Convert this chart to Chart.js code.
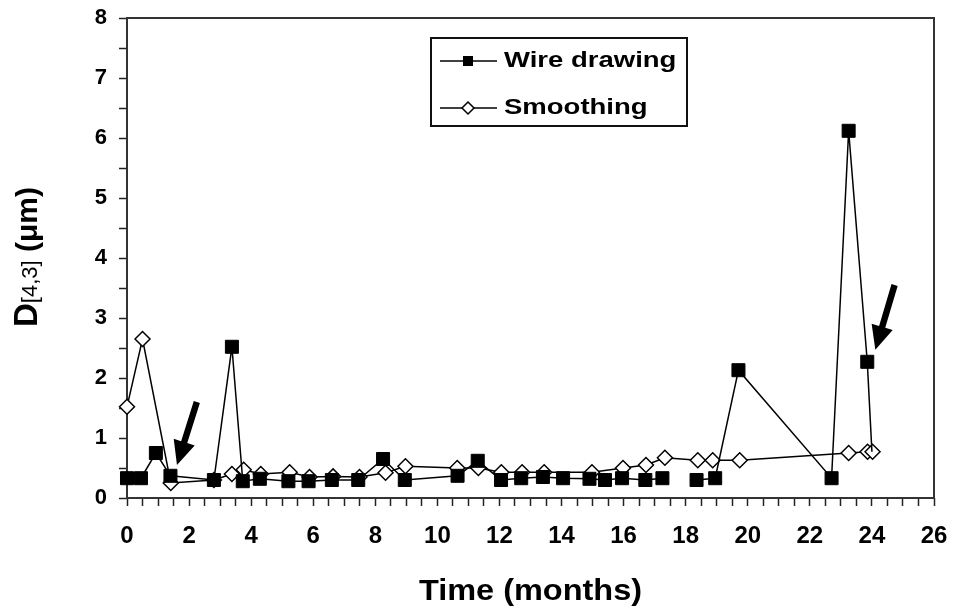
<!DOCTYPE html>
<html>
<head>
<meta charset="utf-8">
<script src="https://cdn.jsdelivr.net/npm/chart.js@4.4.0/dist/chart.umd.min.js"></script>
<style>
  html, body { margin: 0; padding: 0; background: #fff; }
  #wrap { width: 953px; height: 614px; }
</style>
</head>
<body>
<div id="wrap"><canvas id="sizeChart" width="953" height="614"></canvas></div>
<script>
  // Time in months, D[4,3] in microns (null = break in the line)
  const wireTime = [0, 0.45, 0.93, 1.4, 2.8, 3.38, 3.73, 4.28, 5.2, 5.85, 6.6, 7.45, 8.25, 8.95, 10.65, 11.3, 12.05, 12.7, 13.4, 14.05, 14.9, 15.4, 15.95, 16.7, 17.25, 17.8, 18.35, 18.95, 19.7, 22.7, 23.25, 23.85, 24];
  const wireSize = [0.33, 0.33, 0.75, 0.37, 0.3, 2.52, 0.28, 0.32, 0.28, 0.28, 0.3, 0.3, 0.65, 0.3, 0.37, 0.62, 0.3, 0.33, 0.35, 0.33, 0.32, 0.3, 0.33, 0.3, 0.33, null, 0.3, 0.33, 2.13, 0.33, 6.12, 2.27, 0.77];

  const smoothTime = [0, 0.5, 1.41, 2.8, 3.38, 3.76, 4.31, 5.24, 5.88, 6.64, 7.49, 8.33, 8.97, 10.64, 11.32, 12.06, 12.73, 13.44, 14.98, 15.98, 16.72, 17.33, 18.39, 18.87, 19.74, 23.25, 23.86, 24.02];
  const smoothSize = [1.52, 2.65, 0.25, 0.3, 0.4, 0.47, 0.4, 0.43, 0.35, 0.36, 0.35, 0.42, 0.53, 0.5, 0.5, 0.43, 0.43, 0.43, 0.43, 0.5, 0.55, 0.67, 0.63, 0.63, 0.63, 0.75, 0.77, 0.77];

  const xTickLabels = [0, 2, 4, 6, 8, 10, 12, 14, 16, 18, 20, 22, 24, 26];
  const yTickLabels = [0, 1, 2, 3, 4, 5, 6, 7, 8];

  // annotation arrows, [tailX, tailY, tipX, tipY] in data units
  const arrows = [
    [2.25, 1.6, 1.61, 0.55],
    [24.73, 3.55, 24.11, 2.47]
  ];

  const fontFamily = '"Liberation Sans", Arial, Helvetica, sans-serif';

  function toPoints(xs, ys) {
    return xs.map((x, i) => ({ x: x, y: ys[i] }));
  }

  function stretchedText(c, text, x, y, sx) {
    c.save();
    c.translate(x, y);
    c.scale(sx, 1);
    c.fillText(text, 0, 0);
    c.restore();
  }

  const chartDecor = {
    id: 'chartDecor',
    beforeDatasetsDraw(chart) {
      const a = chart.chartArea, c = chart.ctx;
      c.save();
      c.strokeStyle = '#333';
      c.lineWidth = 2;
      c.strokeRect(a.left, a.top, a.right - a.left, a.bottom - a.top);
      c.restore();
    },
    afterDraw(chart) {
      const c = chart.ctx, a = chart.chartArea;
      const xs = chart.scales.x, ys = chart.scales.y;
      c.save();

      // arrows
      c.fillStyle = '#000';
      arrows.forEach(function (ar) {
        const tx = xs.getPixelForValue(ar[0]), ty = ys.getPixelForValue(ar[1]);
        const hx = xs.getPixelForValue(ar[2]), hy = ys.getPixelForValue(ar[3]);
        const len = Math.hypot(hx - tx, hy - ty);
        const ux = (hx - tx) / len, uy = (hy - ty) / len;
        const px = -uy, py = ux;
        const headLen = 24, headW = 11, shaftW = 3.2;
        const bx = hx - ux * headLen, by = hy - uy * headLen;
        c.beginPath();
        c.moveTo(tx + px * shaftW, ty + py * shaftW);
        c.lineTo(bx + px * shaftW, by + py * shaftW);
        c.lineTo(bx + px * headW, by + py * headW);
        c.lineTo(hx, hy);
        c.lineTo(bx - px * headW, by - py * headW);
        c.lineTo(bx - px * shaftW, by - py * shaftW);
        c.lineTo(tx - px * shaftW, ty - py * shaftW);
        c.closePath();
        c.fill();
      });

      // legend box
      const lx = 431, ly = 38, lw = 256, lh = 88;
      c.fillStyle = '#fff';
      c.fillRect(lx, ly, lw, lh);
      c.strokeStyle = '#111';
      c.lineWidth = 2;
      c.strokeRect(lx, ly, lw, lh);
      const rows = [
        { label: 'Wire drawing', y: 61, style: 'rect' },
        { label: 'Smoothing', y: 108, style: 'rectRot' }
      ];
      rows.forEach(function (r) {
        c.strokeStyle = '#000';
        c.lineWidth = 1.5;
        c.beginPath();
        c.moveTo(440, r.y);
        c.lineTo(497, r.y);
        c.stroke();
        if (r.style === 'rect') {
          c.fillStyle = '#000';
          c.fillRect(463, r.y - 5, 10, 10);
        } else {
          c.fillStyle = '#fff';
          c.beginPath();
          c.moveTo(468, r.y - 6);
          c.lineTo(474, r.y);
          c.lineTo(468, r.y + 6);
          c.lineTo(462, r.y);
          c.closePath();
          c.fill();
          c.stroke();
        }
        c.fillStyle = '#000';
        c.font = 'bold 22px ' + fontFamily;
        c.textBaseline = 'middle';
        c.textAlign = 'left';
        stretchedText(c, r.label, 504, r.y, 1.25);
      });

      // x axis title
      c.fillStyle = '#000';
      c.font = 'bold 29px ' + fontFamily;
      c.textAlign = 'center';
      c.textBaseline = 'alphabetic';
      stretchedText(c, 'Time (months)', (a.left + a.right) / 2, 600, 1.12);

      // y axis title with subscript
      const parts = [
        { t: 'D', f: 'bold 33px ' + fontFamily, dy: 0 },
        { t: '[4,3]', f: '22px ' + fontFamily, dy: 0 },
        { t: ' (\u03bcm)', f: 'bold 30px ' + fontFamily, dy: 0 }
      ];
      let total = 0;
      parts.forEach(function (p) { c.font = p.f; p.w = c.measureText(p.t).width; total += p.w; });
      c.translate(37, 257);
      c.rotate(-Math.PI / 2);
      c.textAlign = 'left';
      let pos = -total / 2;
      parts.forEach(function (p) {
        c.font = p.f;
        c.fillText(p.t, pos, p.dy);
        pos += p.w;
      });
      c.restore();
    }
  };

  const sizeChart = new Chart(document.getElementById('sizeChart').getContext('2d'), {
    type: 'scatter',
    data: {
      datasets: [{
        label: 'Wire drawing',
        data: toPoints(wireTime, wireSize),
        showLine: true,
        spanGaps: false,
        borderColor: '#000',
        borderWidth: 1.5,
        pointStyle: 'rect',
        pointRadius: function (ctx) { return ctx.dataIndex === wireTime.length - 1 ? 0 : 9.2; },
        pointBackgroundColor: '#000',
        pointBorderColor: '#000',
        pointBorderWidth: 1,
        clip: false
      }, {
        label: 'Smoothing',
        data: toPoints(smoothTime, smoothSize),
        showLine: true,
        borderColor: '#000',
        borderWidth: 1.5,
        pointStyle: 'rectRot',
        pointRadius: 7.5,
        pointBackgroundColor: '#fff',
        pointBorderColor: '#000',
        pointBorderWidth: 1.5,
        clip: false
      }]
    },
    options: {
      responsive: false,
      animation: false,
      layout: { padding: { top: 18, right: 19, left: 0, bottom: 0 } },
      plugins: {
        legend: { display: false },
        tooltip: { enabled: false }
      },
      scales: {
        x: {
          type: 'linear',
          min: 0,
          max: 26,
          afterFit: function (s) { s.height = 116; s.paddingLeft = 0; s.paddingRight = 0; },
          border: { display: false },
          grid: { drawOnChartArea: false, drawTicks: true, tickLength: 8, tickColor: '#222', tickWidth: 1.5 },
          ticks: {
            stepSize: 0.5,
            autoSkip: false,
            maxRotation: 0,
            padding: 16,
            color: '#000',
            font: { family: fontFamily, size: 24, weight: 'bold' },
            callback: function (v) { return xTickLabels.includes(v) ? String(v) : ''; }
          }
        },
        y: {
          type: 'linear',
          min: 0,
          max: 8,
          afterFit: function (s) { s.width = 127; s.paddingTop = 0; s.paddingBottom = 0; },
          border: { display: false },
          grid: { drawOnChartArea: false, drawTicks: true, tickLength: 8, tickColor: '#222', tickWidth: 1.5 },
          ticks: {
            stepSize: 0.5,
            autoSkip: false,
            padding: 12,
            color: '#000',
            font: { family: fontFamily, size: 22, weight: 'bold' },
            callback: function (v) { return yTickLabels.includes(v) ? String(v) : ''; }
          }
        }
      }
    },
    plugins: [chartDecor]
  });
</script>
</body>
</html>
